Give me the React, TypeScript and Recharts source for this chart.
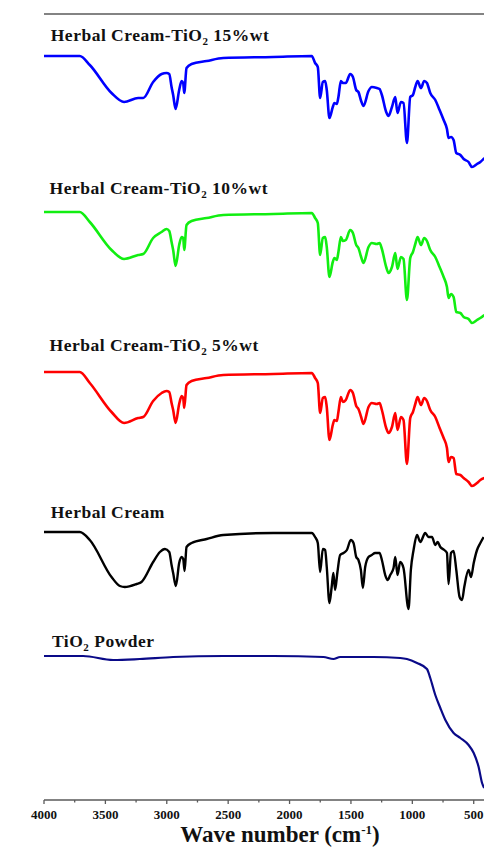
import { Line, LineChart, ReferenceDot, ReferenceLine, XAxis, YAxis } from "recharts"

// wavenumbers (cm-1) sampled along the three TiO2-loaded cream spectra
const creamWn = [
  4000, 3709, 3627, 3450, 3348, 3233, 3192, 3111, 3042, 3002, 2980, 2961, 2948, 2928, 2899, 2879, 2866, 2858, 2839, 2798,
  2675, 2540, 2132, 1819, 1792, 1770, 1751, 1729, 1710, 1697, 1675, 1648, 1635, 1615, 1602, 1582, 1566, 1542, 1506, 1484,
  1457, 1439, 1417, 1398, 1357, 1330, 1289, 1267, 1248, 1213, 1194, 1166, 1139, 1121, 1093, 1072, 1044, 1017, 995, 976,
  957, 930, 903, 881, 854, 813, 778, 745, 718, 705, 685, 664, 642, 609, 582, 542, 514, 473, 446, 413,
]

// transmittance, stacked (arbitrary units)
const cream15 = [
  744, 744, 735, 707, 698, 702, 702, 718, 726, 727, 726, 713, 705, 691, 710, 719, 717, 707, 732, 736,
  739, 742, 743, 744, 737, 733, 702, 718, 719, 710, 682, 693, 697, 696, 703, 719, 717, 717, 726, 723,
  710, 708, 699, 694, 709, 713, 712, 711, 705, 688, 684, 693, 703, 687, 698, 697, 657, 703, 705, 713,
  719, 712, 719, 717, 707, 700, 690, 680, 671, 662, 663, 660, 647, 645, 641, 638, 633, 636, 638, 642,
]

const cream10 = [
  588, 588, 578, 550, 541, 545, 546, 562, 568, 571, 569, 558, 550, 534, 555, 563, 562, 550, 575, 579,
  582, 585, 586, 587, 582, 577, 545, 562, 563, 553, 523, 538, 542, 540, 548, 563, 559, 560, 570, 567,
  555, 552, 543, 537, 553, 557, 556, 557, 551, 533, 527, 533, 547, 531, 543, 541, 500, 542, 548, 556,
  563, 555, 562, 559, 550, 543, 533, 523, 513, 502, 506, 503, 488, 487, 483, 481, 477, 480, 482, 485,
]

const cream5 = [
  428, 428, 417, 388, 377, 382, 383, 399, 407, 409, 408, 397, 390, 377, 396, 404, 402, 392, 415, 419,
  422, 425, 426, 427, 422, 417, 387, 402, 403, 393, 360, 375, 380, 379, 388, 403, 398, 400, 410, 407,
  394, 391, 383, 376, 393, 397, 396, 397, 390, 372, 367, 373, 387, 370, 383, 380, 336, 382, 388, 396,
  403, 395, 402, 399, 390, 383, 372, 362, 352, 338, 343, 342, 326, 325, 322, 318, 314, 317, 320, 322,
]

const herbalWn = [
  4000, 3709, 3627, 3450, 3382, 3342, 3246, 3206, 3111, 3056, 3015, 2980, 2961, 2948, 2926, 2899, 2879, 2866, 2855, 2839,
  2798, 2675, 2540, 2132, 1819, 1792, 1770, 1751, 1729, 1710, 1697, 1675, 1657, 1643, 1629, 1610, 1588, 1561, 1533, 1501,
  1479, 1457, 1439, 1419, 1403, 1384, 1357, 1330, 1303, 1267, 1248, 1221, 1202, 1180, 1153, 1139, 1121, 1099, 1072, 1031,
  1012, 990, 962, 935, 895, 868, 840, 813, 794, 772, 740, 718, 705, 685, 664, 642, 615, 595, 577, 542,
  522, 500, 473, 446, 419,
]

const herbal = [
  268, 268, 260, 223, 214, 213, 216, 218, 238, 248, 251, 248, 235, 227, 214, 237, 243, 241, 229, 253,
  257, 261, 265, 267, 267, 263, 257, 228, 251, 250, 233, 197, 213, 227, 210, 228, 245, 247, 250, 260,
  257, 243, 240, 230, 212, 233, 243, 245, 247, 247, 240, 225, 220, 225, 232, 243, 225, 238, 232, 191,
  230, 250, 265, 258, 267, 263, 263, 255, 258, 253, 250, 247, 216, 247, 249, 230, 203, 200, 213, 230,
  223, 237, 250, 257, 263,
]

const tio2Wn = [
  4000, 3682, 3437, 3219, 2948, 2540, 2132, 1724, 1643, 1588, 1316, 1099, 1044, 962, 881, 854, 813, 772, 731, 664,
  609, 542, 500, 460, 432, 415,
]

const tio2 = [
  144, 144, 140, 141, 143, 144, 144, 143, 141, 143, 143, 142, 141, 137, 131, 122, 105, 92, 80, 67,
  62, 55, 47, 33, 17, 12,
]

const xTicks = [4000, 3750, 3500, 3250, 3000, 2750, 2500, 2250, 2000, 1750, 1500, 1250, 1000, 750, 500]

const toRows = (wn: number[], t: number[]) => wn.map((w, i) => ({ wn: w, t: t[i] }))

const series = [
  { key: "c15", rows: toRows(creamWn, cream15), color: "#0000ff", width: 2.6 },
  { key: "c10", rows: toRows(creamWn, cream10), color: "#11ee11", width: 2.6 },
  { key: "c5", rows: toRows(creamWn, cream5), color: "#ff0000", width: 2.6 },
  { key: "herbal", rows: toRows(herbalWn, herbal), color: "#000000", width: 2.4 },
  { key: "tio2", rows: toRows(tio2Wn, tio2), color: "#0a0a88", width: 2.2 },
]

const FONT = "'Liberation Serif', 'Times New Roman', serif"
const AXIS = "#5a5a5a"

function WaveTick({ x, y, payload }: any) {
  const major = payload.value % 500 === 0
  const axisY = y - 9
  return (
    <g>
      <line x1={x} x2={x} y1={axisY} y2={axisY + (major ? 4 : 2.5)} stroke={AXIS} strokeWidth={1.3} />
      {major && (
        <text x={x} y={y + 9.5} textAnchor="middle" fontFamily={FONT} fontWeight="bold" fontSize={13} fill="#111">
          {payload.value}
        </text>
      )}
    </g>
  )
}

function tag(head: string, sub: string | null, tail: string) {
  return (props: any) => {
    const vb = props.viewBox || {}
    return (
      <text x={vb.x} y={vb.y} fontFamily={FONT} fontWeight="bold" fontSize={17.5} letterSpacing={0.5} fill="#111">
        {head}
        {sub && (
          <tspan fontSize={11} dy={4}>
            {sub}
          </tspan>
        )}
        {sub ? <tspan dy={-4}>{tail}</tspan> : tail}
      </text>
    )
  }
}

export default function App() {
  return (
    <div style={{ position: "absolute", left: 0, top: 0, width: 484, height: 852, overflow: "hidden", background: "#fff" }}>
      <LineChart width={500} height={852} margin={{ top: 14, right: 14, left: 44, bottom: 22 }}>
        <XAxis
          dataKey="wn"
          type="number"
          domain={[400, 4000]}
          reversed
          allowDataOverflow
          ticks={xTicks}
          interval={0}
          tickSize={4}
          tickMargin={5}
          tickLine={false}
          tick={<WaveTick />}
          height={30}
          axisLine={{ stroke: AXIS, strokeWidth: 1.5 }}
          label={(p: any) => (
            <text x={280} y={p.viewBox.y + 42} textAnchor="middle" fontFamily={FONT} fontWeight="bold" fontSize={23} fill="#111">
              Wave number (cm
              <tspan fontSize={13} dy={-8}>-1</tspan>
              <tspan dy={8}>)</tspan>
            </text>
          )}
        />
        <YAxis
          type="number"
          domain={[0, 786]}
          width={0}
          tick={false}
          tickLine={false}
          axisLine={{ stroke: AXIS, strokeWidth: 1.5 }}
          label={() => (
            <text
              x={32}
              y={380}
              transform="rotate(-90, 32, 380)"
              textAnchor="middle"
              fontFamily={FONT}
              fontWeight="bold"
              fontSize={23}
              fill="#111"
            >
              Transmittance (%)
            </text>
          )}
        />
        <ReferenceLine y={786} stroke={AXIS} strokeWidth={1.5} />
        {series.map((s) => (
          <Line
            key={s.key}
            data={s.rows}
            dataKey="t"
            type="monotoneX"
            stroke={s.color}
            strokeWidth={s.width}
            strokeLinejoin="round"
            dot={false}
            activeDot={false}
            isAnimationActive={false}
          />
        ))}
        <ReferenceDot x={3945} y={759} r={0} fill="none" stroke="none" label={tag("Herbal Cream-TiO", "2", " 15%wt")} />
        <ReferenceDot x={3955} y={606} r={0} fill="none" stroke="none" label={tag("Herbal Cream-TiO", "2", " 10%wt")} />
        <ReferenceDot x={3955} y={449} r={0} fill="none" stroke="none" label={tag("Herbal Cream-TiO", "2", " 5%wt")} />
        <ReferenceDot x={3945} y={282} r={0} fill="none" stroke="none" label={tag("Herbal Cream", null, "")} />
        <ReferenceDot x={3935} y={153} r={0} fill="none" stroke="none" label={tag("TiO", "2", " Powder")} />
      </LineChart>
    </div>
  )
}
